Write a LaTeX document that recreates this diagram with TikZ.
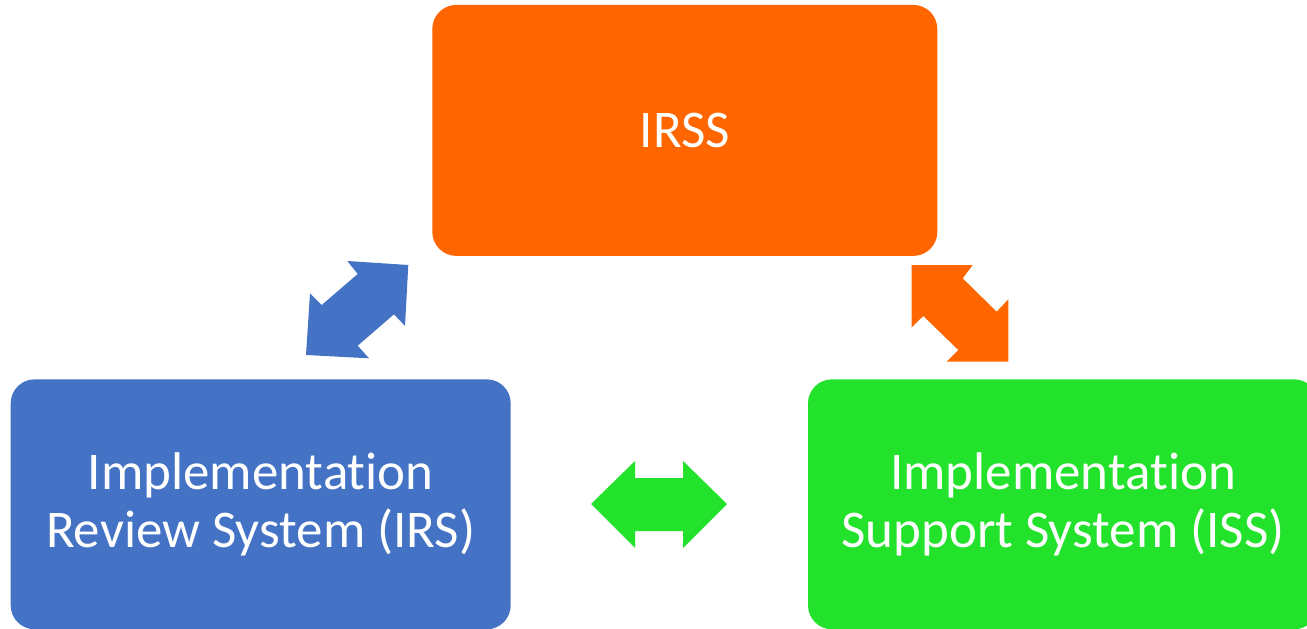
\documentclass[tikz,border=0pt]{standalone}
\usepackage{fontspec}
\setmainfont{Carlito}[Ligatures=NoCommon]
\definecolor{boxorange}{RGB}{255,102,0}
\definecolor{boxblue}{RGB}{68,114,196}
\definecolor{boxgreen}{RGB}{35,226,43}
\tikzset{
  box/.style={rounded corners=24pt, minimum width=500pt, minimum height=250pt,
    inner sep=0pt, align=center, text=white, font=\fontsize{53}{58}\selectfont},
  blockarrow/.style={draw=none}
}
\begin{document}
\begin{tikzpicture}[x=1pt,y=-1pt]
\useasboundingbox (0,0) rectangle (1307,629);
\node[box, fill=boxorange, minimum width=505pt, minimum height=251pt] (irss) at (684.8,130.4) {IRSS};
\node[box, fill=boxblue] (irs) at (260.7,504.3) {Implementation\\Review System (IRS)};
\node[box, fill=boxgreen, minimum width=510pt] (iss) at (1063,504.3) {Implementation\\Support System (ISS)};
% blue double arrow
\fill[boxblue, blockarrow] (408.3,265) -- (405,326) -- (394,314.3) -- (357.7,345.7) -- (369,358.3)
  -- (306,355) -- (310,293.3) -- (321.7,305) -- (357.7,274) -- (347.3,261) -- cycle;
% orange double arrow
\fill[boxorange, blockarrow] (911.7,265) -- (972.7,265) -- (962.7,278.3) -- (996.7,311.7) -- (1008.3,299.3)
  -- (1008.3,361.7) -- (946.7,361.7) -- (958.3,350) -- (923.3,316) -- (911.7,327.3) -- cycle;
% green double arrow
\fill[boxgreen, blockarrow] (591,504) -- (635,461) -- (635,478) -- (683,478) -- (683,461)
  -- (727,504) -- (683,548) -- (683,531) -- (635,531) -- (635,548) -- cycle;
\end{tikzpicture}
\end{document}
